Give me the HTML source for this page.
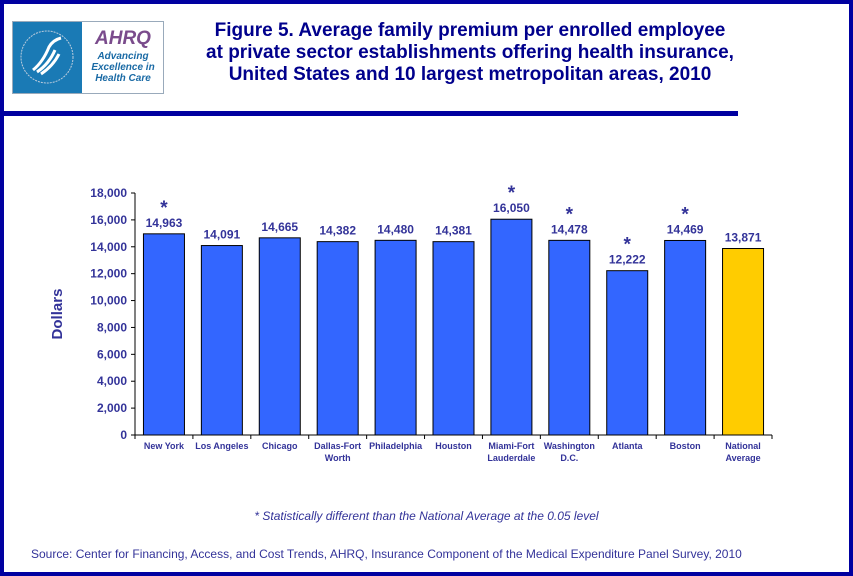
<!DOCTYPE html>
<html><head><meta charset="utf-8">
<style>
body{margin:0;width:853px;height:576px;overflow:hidden;background:#fff;font-family:"Liberation Sans",Arial,sans-serif;}
#frame{position:absolute;left:0;top:0;width:845px;height:568px;border:4px solid #0000a0;}
#title{position:absolute;left:170px;top:20px;width:600px;text-align:center;color:#00008c;font-weight:bold;font-size:19px;line-height:22px;white-space:nowrap;}
#rule{position:absolute;left:0;top:111px;width:738px;height:5px;background:#0000a0;}
#logo{position:absolute;left:12px;top:21px;width:150px;height:71px;border:1px solid #9ab;}
</style></head><body>
<div id="frame"></div>
<div id="logo">
<div style="position:absolute;left:0;top:0;width:69px;height:71px;background:#1a7ab5;">
<svg width="69" height="71"><circle cx="34" cy="35" r="26" fill="none" stroke="#bcd" stroke-width="1" stroke-dasharray="2 1"/><path d="M20 48 Q30 40 36 25 Q40 18 48 16 M24 50 Q36 42 42 28 M28 52 Q40 44 46 32" stroke="#fff" stroke-width="3" fill="none"/></svg></div>
<div style="position:absolute;left:72px;top:6px;width:76px;text-align:center;color:#7a4b8c;font-weight:bold;font-style:italic;font-size:19px;">AHRQ</div>
<div style="position:absolute;left:70px;top:29px;width:80px;text-align:center;color:#1a6aa5;font-weight:bold;font-style:italic;font-size:10px;line-height:11px;">Advancing<br>Excellence in<br>Health Care</div>
</div>
<div id="title">Figure 5. Average family premium per enrolled employee<br>at private sector establishments offering health insurance,<br>United States and 10 largest metropolitan areas, 2010</div>
<div id="rule"></div>
<svg id="chart" width="853" height="576" style="position:absolute;left:0;top:0"></svg>
<div style="position:absolute;left:0;width:853px;top:509px;text-align:center;font-style:italic;font-size:12px;color:#333399">* Statistically different than the National Average at the 0.05 level</div>
<div style="position:absolute;left:31px;top:547px;font-size:12px;color:#333399">Source: Center for Financing, Access, and Cost Trends, AHRQ, Insurance Component of the Medical Expenditure Panel Survey, 2010</div>
<script>
const categories=[["New York"],["Los Angeles"],["Chicago"],["Dallas-Fort","Worth"],["Philadelphia"],["Houston"],["Miami-Fort","Lauderdale"],["Washington","D.C."],["Atlanta"],["Boston"],["National","Average"]];
const values=[14963,14091,14665,14382,14480,14381,16050,14478,12222,14469,13871];
const valueLabels=["14,963","14,091","14,665","14,382","14,480","14,381","16,050","14,478","12,222","14,469","13,871"];
const significant=[true,false,false,false,false,false,true,true,true,true,false];
const ticks=[0,2000,4000,6000,8000,10000,12000,14000,16000,18000];
const tickLabels=["0","2,000","4,000","6,000","8,000","10,000","12,000","14,000","16,000","18,000"];
const NS="http://www.w3.org/2000/svg";
const svg=document.getElementById('chart');
const x0=135,x1=772,y0=435,y1=193,ymax=18000;
const step=(x1-x0)/categories.length;
const y=v=>y0-(v/ymax)*(y0-y1);
const xc=i=>x0+step*(i+0.5);
function mk(t,a,txt){const e=document.createElementNS(NS,t);for(const k in a)e.setAttribute(k,a[k]);if(txt!==undefined)e.textContent=txt;svg.appendChild(e);return e;}
let e=mk('line',{x1:x0,y1:y0,x2:x0,y2:y1,stroke:'#000'});


e=mk('line',{x1:x0,y1:y0,x2:x1,y2:y0,stroke:'#000'});


ticks.forEach((t,i)=>{
 mk('line',{x1:x0-4,y1:y(t),x2:x0,y2:y(t),stroke:'#000'});
 e=mk('text',{x:x0-8,y:y(t)+4,'text-anchor':'end','font-size':12,'font-weight':'bold',fill:'#333399','font-family':'Liberation Sans, sans-serif'},tickLabels[i]);
 
 
});
for(let i=0;i<=categories.length;i++)mk('line',{x1:x0+step*i,y1:y0,x2:x0+step*i,y2:y0+4,stroke:'#000'});
e=mk('text',{x:62,y:314,'text-anchor':'middle','font-size':15,'font-weight':'bold',fill:'#333399',transform:'rotate(-90 62 314)','font-family':'Liberation Sans, sans-serif'},'Dollars');


values.forEach((v,i)=>{
 const bw=41;
 e=mk('rect',{x:xc(i)-bw/2,y:y(v),width:bw,height:y0-y(v),fill:i==10?'#ffcc00':'#3366ff',stroke:'#000','stroke-width':1});
 
 
 e=mk('text',{x:xc(i),y:y(v)-7,'text-anchor':'middle','font-size':12,'font-weight':'bold',fill:'#333399','font-family':'Liberation Sans, sans-serif'},valueLabels[i]);
 
 
 if(significant[i]){
  e=mk('text',{x:xc(i),y:y(v)-20,'text-anchor':'middle','font-size':19,'font-weight':'bold',fill:'#333399','font-family':'Liberation Sans, sans-serif'},'*');
  
  
 }
 categories[i].forEach((l,j)=>{
  e=mk('text',{x:xc(i),y:449+j*12,'text-anchor':'middle','font-size':9,'font-weight':'bold',fill:'#333399','font-family':'Liberation Sans, sans-serif'},l);
  
  
 });
});
</script>
</body></html>
